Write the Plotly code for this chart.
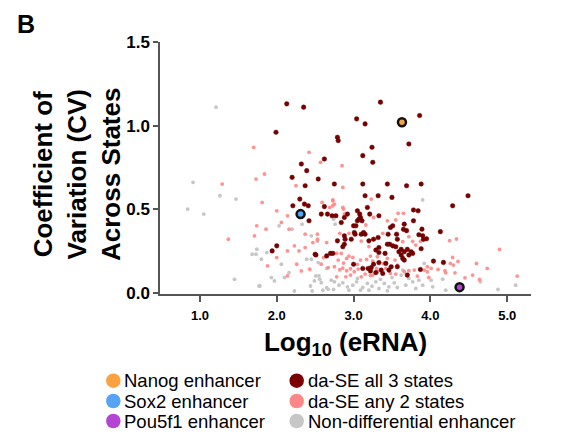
import plotly.graph_objects as go

# ---------------- data ----------------
# da-SE all 3 states (dark red)
dase3_x = [2.13, 1.99, 2.35, 3.35, 3.04, 3.15, 3.86, 2.79, 2.80, 3.72, 3.24, 3.12, 3.25, 2.62, 2.32,
           2.39, 2.20, 2.54, 2.37, 2.75, 3.12, 3.44, 3.69, 3.88, 3.15, 3.32, 3.50, 4.49, 2.30,
           2.21, 2.36, 2.41, 2.42, 2.62, 2.58, 2.66, 2.72, 2.88, 2.92, 2.84, 2.77, 3.05, 3.08, 3.09,
           3.05, 3.07, 3.11, 3.21, 3.33, 3.18,
           3.00, 3.03, 3.01, 3.02, 2.97, 2.79, 2.88, 2.89, 2.88, 3.10, 3.15, 3.13, 3.20, 3.26, 3.32,
           3.48, 3.51, 3.45, 3.47, 3.51, 3.44, 3.56, 3.57,
           2.00, 1.94, 2.50, 2.51, 2.65, 2.70, 2.73, 2.86,
           3.00, 3.12, 3.19, 3.22, 3.23, 3.26, 3.29, 3.33, 3.33, 3.36, 3.38, 3.42, 3.49,
           3.33, 3.41, 3.55, 3.59, 3.29, 3.46, 3.57,
           4.29, 3.78, 3.84, 3.78, 3.66, 3.89, 3.65, 3.69, 4.13, 3.85, 3.90, 3.95, 3.91, 3.88,
           3.62, 3.66, 3.70, 3.75, 3.72, 3.77, 3.62, 3.64, 3.66, 4.04, 4.17, 3.87, 3.70]
dase3_y = [1.13, 0.96, 1.11, 1.14, 1.04, 1.01, 1.06, 0.93, 0.91, 0.89, 0.87, 0.82, 0.78, 0.80, 0.77,
           0.73, 0.69, 0.68, 0.64, 0.65, 0.65, 0.65, 0.64, 0.65, 0.58, 0.58, 0.57, 0.58, 0.56,
           0.52, 0.53, 0.52, 0.43, 0.515, 0.47, 0.47, 0.46, 0.45, 0.47, 0.42, 0.46, 0.49, 0.47, 0.45,
           0.43, 0.44, 0.43, 0.47, 0.46, 0.51,
           0.40, 0.40, 0.36, 0.35, 0.32, 0.31, 0.34, 0.32, 0.29, 0.35, 0.35, 0.36, 0.31, 0.32, 0.33,
           0.39, 0.40, 0.35, 0.29, 0.28, 0.29, 0.35, 0.32,
           0.28, 0.25, 0.23, 0.225, 0.22, 0.235, 0.235, 0.275,
           0.17, 0.145, 0.145, 0.13, 0.15, 0.17, 0.255, 0.24, 0.18, 0.135, 0.115, 0.175, 0.155,
           0.27, 0.235, 0.275, 0.245, 0.12, 0.135, 0.155,
           0.52, 0.495, 0.49, 0.43, 0.41, 0.38, 0.379, 0.371, 0.365, 0.347, 0.341, 0.323, 0.319, 0.263,
           0.259, 0.245, 0.259, 0.245, 0.225, 0.235, 0.225, 0.205, 0.195, 0.189, 0.181, 0.139, 0.105]

# da-SE any 2 states (pink)
dase2_x = [1.70, 1.84, 1.73, 1.29, 2.42, 2.57, 2.85, 2.25, 2.86, 3.23, 2.73,
           1.74, 1.71, 1.37, 1.81, 2.00, 2.14, 2.06, 1.86, 2.16, 2.37, 2.23, 2.37, 2.53, 2.14, 2.29,
           2.00, 2.26, 1.88, 2.14, 2.32, 2.43,
           2.59, 2.53, 2.53, 2.65, 2.47, 2.61, 2.58, 2.67,
           2.69, 2.75, 2.87, 2.88, 3.26, 2.73, 2.73, 2.86, 3.58,
           2.94, 2.99, 2.91, 2.84, 2.78, 2.87, 2.96, 2.82, 2.86, 2.91, 3.01, 3.06, 3.05, 3.09, 3.17,
           3.25, 3.31, 3.22, 3.30, 3.44, 3.48, 3.54, 3.57, 3.48, 3.55, 3.42, 3.15, 3.22, 3.25, 3.10,
           3.31, 3.39, 2.80, 2.75, 2.78, 2.90, 2.96, 3.16, 2.94, 3.10, 3.20, 3.38, 3.44, 3.55, 2.82,
           4.25, 4.34, 4.90, 4.29, 4.36, 4.26, 4.30, 4.60, 4.74, 4.10, 4.19, 4.20, 4.32, 4.45, 4.55,
           4.64, 5.13, 3.81, 3.77, 3.87, 3.72, 3.96, 3.92, 4.01, 3.96, 3.83, 3.98, 3.72, 3.79, 3.66,
           3.65, 3.64]
dase2_y = [0.87, 0.71, 0.68, 0.65, 0.84, 0.78, 0.76, 0.64, 0.63, 0.56, 0.55,
           0.40, 0.34, 0.32, 0.54, 0.49, 0.46, 0.42, 0.38, 0.38, 0.35, 0.28, 0.27, 0.31, 0.25, 0.25,
           0.21, 0.17, 0.16, 0.10, 0.13, 0.14,
           0.54, 0.35, 0.32, 0.30, 0.30, 0.21, 0.17, 0.15,
           0.51, 0.53, 0.50, 0.47, 0.45, 0.555, 0.52, 0.51, 0.475,
           0.219, 0.211, 0.205, 0.235, 0.235, 0.177, 0.143, 0.137, 0.147, 0.131, 0.125, 0.141, 0.169,
           0.195, 0.199, 0.189, 0.215, 0.219, 0.145, 0.205, 0.151, 0.195, 0.165, 0.115, 0.111, 0.145,
           0.111, 0.103, 0.105, 0.095, 0.125, 0.175, 0.195, 0.155, 0.095, 0.095, 0.105, 0.405, 0.355,
           0.309, 0.275, 0.355, 0.43, 0.435, 0.355,
           0.311, 0.321, 0.259, 0.211, 0.187, 0.175, 0.165, 0.175, 0.145, 0.139, 0.131, 0.119, 0.119,
           0.089, 0.105, 0.079, 0.099, 0.285, 0.307, 0.307, 0.335, 0.155, 0.135, 0.145, 0.125, 0.099,
           0.091, 0.131, 0.135, 0.125, 0.475, 0.305]

# Non-differential enhancer (gray)
nd_x = [1.21, 0.91, 1.26, 1.47, 0.84, 1.05, 1.74, 1.68, 1.73, 1.45, 1.77, 2.33, 2.03, 2.20, 2.45,
        1.87, 1.80, 2.39, 2.45, 2.06, 2.16, 2.10, 1.93, 1.97, 1.78, 2.23, 2.44, 2.46, 2.55, 2.54,
        2.51, 2.56, 2.58, 2.49, 2.60, 2.65, 2.67, 2.65, 3.90, 2.74, 2.76,
        2.71, 2.75, 2.81, 2.86, 2.92, 2.99, 3.04, 3.12, 3.18, 3.24, 3.29, 3.33, 3.40, 3.46, 3.53,
        3.57, 2.74, 2.94, 3.20, 3.44, 3.09, 3.05, 3.35, 3.50,
        3.92, 4.16, 4.65, 4.88, 5.11, 4.20, 4.01, 4.03, 3.85, 3.81, 3.72, 3.68, 3.62, 3.64, 3.77,
        3.90]
nd_y = [1.11, 0.66, 0.58, 0.56, 0.50, 0.47, 0.26, 0.23, 0.23, 0.08, 0.04, 0.41, 0.40, 0.38, 0.34,
        0.24, 0.20, 0.20, 0.20, 0.17, 0.12, 0.09, 0.09, 0.07, 0.04, 0.01, 0.04, 0.01, 0.10, 0.18,
        0.10, 0.08, 0.06, 0.07, 0.015, 0.03, 0.02, 0.145, 0.555, 0.44, 0.41,
        0.075, 0.065, 0.045, 0.059, 0.035, 0.045, 0.065, 0.031, 0.055, 0.039, 0.065, 0.025, 0.055,
        0.035, 0.059, 0.031, 0.019, 0.015, 0.015, 0.011, 0.015, 0.085, 0.08, 0.09,
        0.175, 0.081, 0.065, 0.019, 0.045, 0.015, 0.075, 0.035, 0.075, 0.025, 0.085, 0.045, 0.105,
        0.135, 0.065, 0.045]

# highlighted enhancers
nanog_x, nanog_y = [3.63], [1.02]
sox2_x, sox2_y = [2.31], [0.47]
pou5f1_x, pou5f1_y = [4.38], [0.033]

# tick labels
x_ticks = [1.0, 2.0, 3.0, 4.0, 5.0]
x_ticklabels = ["1.0", "2.0", "3.0", "4.0", "5.0"]
y_ticks = [0.0, 0.5, 1.0, 1.5]
y_ticklabels = ["0.0", "0.5", "1.0", "1.5"]

legend_left = ["Nanog enhancer", "Sox2 enhancer", "Pou5f1 enhancer"]
legend_right = ["da-SE all 3 states", "da-SE any 2 states", "Non-differential enhancer"]

# ---------------- styles ----------------
C_NANOG = "#f9a23f"
C_SOX2 = "#56a2f5"
C_POU = "#b444d2"
C_DASE3 = "#7d0000"
C_DASE2 = "#ff8686"
C_ND = "#c6c6c6"
FONT = "Liberation Sans, Arial, sans-serif"

W, H = 563, 434
L, R, T, B = 160, 32, 42, 140
PW, PH = W - L - R, H - T - B


def px2paper_x(px):
    return (px - L) / PW


def px2paper_y(py):
    return (H - B - py) / PH


fig = go.Figure()
fig.add_trace(go.Scatter(x=nd_x, y=nd_y, mode="markers", name=legend_right[2], showlegend=False,
                         marker=dict(size=3.8, color=C_ND)))
fig.add_trace(go.Scatter(x=dase2_x, y=dase2_y, mode="markers", name=legend_right[1], showlegend=False,
                         marker=dict(size=3.8, color=C_DASE2, opacity=0.9)))
fig.add_trace(go.Scatter(x=dase3_x, y=dase3_y, mode="markers", name=legend_right[0], showlegend=False,
                         marker=dict(size=4.6, color=C_DASE3, line=dict(width=0.4, color="#500000"))))
for xs, ys, c, n in [(nanog_x, nanog_y, C_NANOG, legend_left[0]),
                     (sox2_x, sox2_y, C_SOX2, legend_left[1]),
                     (pou5f1_x, pou5f1_y, C_POU, legend_left[2])]:
    fig.add_trace(go.Scatter(x=xs, y=ys, mode="markers", name=n, showlegend=False,
                             marker=dict(size=8, color=c, line=dict(width=2.5, color="#111111"))))

# ---------------- legend (drawn as symbols + text) ----------------
shapes = []
annotations = []
rows_py = [380.7, 401.0, 421.0]
d = 14.5
for col_cx, col_tx, labels, colors in [(113.3, 121.5, legend_left, [C_NANOG, C_SOX2, C_POU]),
                                        (296.7, 305.5, legend_right, [C_DASE3, C_DASE2, C_ND])]:
    for py, lab, c in zip(rows_py, labels, colors):
        shapes.append(dict(type="circle", xref="paper", yref="paper",
                           x0=px2paper_x(col_cx - d / 2), x1=px2paper_x(col_cx + d / 2),
                           y0=px2paper_y(py + d / 2), y1=px2paper_y(py - d / 2),
                           fillcolor=c, line=dict(width=0)))
        annotations.append(dict(text=lab, xref="paper", yref="paper", x=px2paper_x(col_tx),
                                y=px2paper_y(py), xanchor="left", yanchor="middle", showarrow=False,
                                font=dict(family=FONT, size=18.5, color="#000000")))

# panel letter
annotations.append(dict(text="B", xref="paper", yref="paper", x=px2paper_x(15), y=px2paper_y(24),
                        xanchor="left", yanchor="middle", showarrow=False,
                        font=dict(family=FONT, size=25, color="#000000", weight="bold")))
# y axis title
annotations.append(dict(text="Coefficient of<br>Variation (CV)<br>Across States", xref="paper", yref="paper",
                        x=px2paper_x(77), y=px2paper_y(175), xanchor="center", yanchor="middle",
                        textangle=-90, showarrow=False,
                        font=dict(family=FONT, size=26, color="#000000", weight="bold")))

fig.update_layout(
    width=W, height=H,
    margin=dict(l=L, r=R, t=T, b=B, pad=0),
    paper_bgcolor="white", plot_bgcolor="white",
    showlegend=False,
    shapes=shapes,
    annotations=annotations,
    xaxis=dict(range=[0.48, 5.31], tickmode="array", tickvals=x_ticks, ticktext=x_ticklabels,
               ticks="outside", ticklen=6, tickwidth=1.5, tickcolor="#555555",
               showline=True, linecolor="#555555", linewidth=1.5, showgrid=False, zeroline=False,
               tickfont=dict(family=FONT, size=13, color="#000000", weight="bold"),
               ticklabelstandoff=3,
               title=dict(text="Log<sub>10</sub> (eRNA)", standoff=10,
                          font=dict(family=FONT, size=26, color="#000000", weight="bold"))),
    yaxis=dict(range=[-0.008, 1.5], tickmode="array", tickvals=y_ticks, ticktext=y_ticklabels,
               ticks="outside", ticklen=5, tickwidth=1.5, tickcolor="#555555",
               showline=True, linecolor="#555555", linewidth=1.5, showgrid=False, zeroline=False,
               tickfont=dict(family=FONT, size=17, color="#000000", weight="bold")),
)

fig.write_html("out.html")
